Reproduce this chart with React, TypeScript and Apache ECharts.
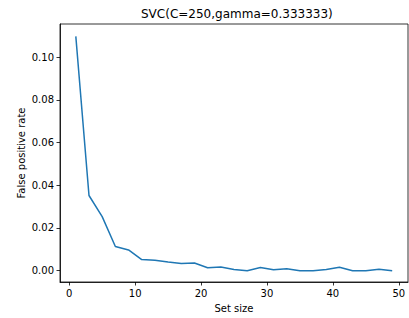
import React, { useEffect, useRef } from "react";
import * as echarts from "echarts";

const setSizes = [1, 3, 5, 7, 9, 11, 13, 15, 17, 19, 21, 23, 25, 27, 29, 31, 33, 35, 37, 39, 41, 43, 45, 47, 49];
const fpRate = [0.1097, 0.0352, 0.0253, 0.0113, 0.0097, 0.0052, 0.0049, 0.0041, 0.0034, 0.0036, 0.0014, 0.0017, 0.0006, 0.0, 0.0015, 0.0004, 0.0009, 0.0, 0.0, 0.0006, 0.0016, 0.0, 0.0, 0.0007, 0.0];
const xTicks = [0, 10, 20, 30, 40, 50];
const yTicks = [0.0, 0.02, 0.04, 0.06, 0.08, 0.1];
const titleText = "SVC(C=250,gamma=0.333333)";

export default function App() {
  const ref = useRef<HTMLDivElement>(null);
  useEffect(() => {
    if (!ref.current) return;
    const chart = echarts.init(ref.current, null, { renderer: "svg" });
    const font = "DejaVu Sans";
    chart.setOption({
      animation: false,
      title: {
        text: titleText,
        left: 136,
        top: 3,
        textStyle: { fontFamily: font, fontSize: 12, fontWeight: "normal", color: "#000" },
      },
      grid: {
        left: 60,
        right: 1,
        top: 24,
        bottom: 33,
        show: true,
        borderColor: "#000",
        borderWidth: 0.8,
        backgroundColor: "#fff",
      },
      xAxis: {
        type: "value",
        min: -1.4,
        max: 51.4,
        name: "Set size",
        nameLocation: "middle",
        nameGap: 21,
        nameMoveOverlap: false,
        nameTextStyle: { fontFamily: font, fontSize: 10, color: "#000" },
        splitLine: { show: false },
        axisLine: { show: true, onZero: false, lineStyle: { color: "#000", width: 0.8 } },
        axisTick: { show: true, inside: false, length: 3.5, customValues: xTicks, lineStyle: { color: "#000", width: 0.8 } },
        axisLabel: { customValues: xTicks, fontFamily: font, fontSize: 10, color: "#000", margin: 6 },
      },
      yAxis: {
        type: "value",
        min: -0.0053,
        max: 0.1155,
        name: "False positive rate",
        nameLocation: "middle",
        nameGap: 34,
        nameMoveOverlap: false,
        nameTextStyle: { fontFamily: font, fontSize: 10, color: "#000" },
        splitLine: { show: false },
        axisLine: { show: true, onZero: false, lineStyle: { color: "#000", width: 0.8 } },
        axisTick: { show: true, inside: false, length: 3.5, customValues: yTicks, lineStyle: { color: "#000", width: 0.8 } },
        axisLabel: {
          customValues: yTicks,
          fontFamily: font,
          fontSize: 10,
          color: "#000",
          margin: 6,
          formatter: (v: number) => v.toFixed(2),
        },
      },
      series: [
        {
          type: "line",
          data: setSizes.map((s, i) => [s, fpRate[i]]),
          showSymbol: false,
          lineStyle: { color: "#1f77b4", width: 1.5 },
          itemStyle: { color: "#1f77b4" },
        },
      ],
    });
    return () => chart.dispose();
  }, []);
  return <div ref={ref} style={{ width: 409, height: 318, position: "absolute", left: 0, top: 0, background: "#fff" }} />;
}
